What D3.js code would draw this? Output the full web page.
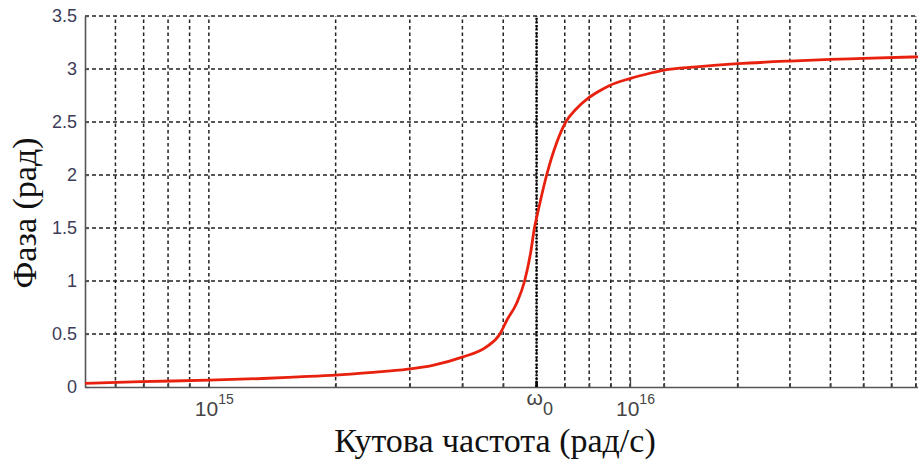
<!DOCTYPE html>
<html>
<head>
<meta charset="utf-8">
<script src="https://cdn.jsdelivr.net/npm/d3@7"></script>
<style>
  body { margin: 0; background: #fff; }
  svg { display: block; }
</style>
</head>
<body>
<svg id="chart" width="918" height="461"></svg>
<script>
// values: angular frequency (rad/s) and phase (rad)
const freq = [5.08e14, 6.9e14, 1.0e15, 1.34e15, 1.63e15, 2.0e15, 2.4e15, 2.97e15, 3.4e15, 3.98e15,
    4.57e15, 4.91e15, 5.1e15, 5.38e15, 5.62e15, 5.81e15, 5.93e15, 6.02e15, 6.34e15, 6.69e15,
    7.04e15, 7.44e15, 7.93e15, 8.48e15, 8.95e15, 1.0e16, 1.5e16, 2.0e16, 2.39e16, 3.0e16,
    4.0e16, 5.0e16, 6.0e16, 8.1e16];
const phase = [0.035, 0.05, 0.064, 0.08, 0.095, 0.112, 0.135, 0.168, 0.205, 0.28,
    0.38, 0.5, 0.63, 0.79, 1.0, 1.27, 1.5, 1.62, 2.0, 2.3,
    2.5, 2.62, 2.72, 2.795, 2.845, 2.91, 2.96, 2.99, 3.02, 3.05,
    3.075, 3.09, 3.10, 3.115];

const gridFreqs = [6e14, 7e14, 8e14, 9e14, 1e15, 2e15, 3e15, 4e15, 5e15, 6e15, 7e15, 8e15, 9e15,
    1e16, 2e16, 3e16, 4e16, 5e16, 6e16, 7e16, 8e16];
const decades = [1e15, 1e16];
const yTicks = [0, 0.5, 1, 1.5, 2, 2.5, 3, 3.5];
const omega0 = 6e15;

const svg = d3.select("#chart");

// the original axis is log, but the stretch between 1e16 and 2e16 is squeezed
const x = d3.scaleLinear()
    .domain([Math.log10(5.08e14), 16, Math.log10(2e16), Math.log10(8.1e16)])
    .range([85, 630, 664, 918]);
const fx = f => x(Math.log10(f));
const y = d3.scaleLinear().domain([0, 3.5]).range([387, 16]);

// grid
svg.append("g").selectAll("line")
    .data(yTicks.filter(d => d > 0))
    .join("line")
    .attr("x1", 85).attr("x2", 918)
    .attr("y1", d => y(d)).attr("y2", d => y(d))
    .attr("stroke", "#222").attr("stroke-width", 1.5)
    .attr("stroke-dasharray", "4,3");

svg.append("g").selectAll("line")
    .data(gridFreqs)
    .join("line")
    .attr("x1", d => fx(d)).attr("x2", d => fx(d))
    .attr("y1", y(0)).attr("y2", y(3.5))
    .attr("stroke", "#222").attr("stroke-width", 1.5)
    .attr("stroke-dasharray", "3.5,3");

// omega0 marker
svg.append("line")
    .attr("x1", fx(omega0)).attr("x2", fx(omega0))
    .attr("y1", y(0)).attr("y2", y(3.5))
    .attr("stroke", "#000").attr("stroke-width", 2.4)
    .attr("stroke-dasharray", "2,1.6");

// axes
const yAxis = svg.append("g")
    .attr("transform", "translate(85,0)")
    .call(d3.axisLeft(y).tickValues(yTicks).tickFormat(d3.format("")).tickSizeInner(-4).tickSizeOuter(0).tickPadding(8));
yAxis.select(".domain").attr("stroke", "#555").attr("stroke-width", 1.6);
yAxis.selectAll(".tick line").attr("stroke", "#555").attr("stroke-width", 1.3);
yAxis.selectAll(".tick text")
    .attr("font-family", "Liberation Sans, Arial, sans-serif")
    .attr("font-size", 18).attr("fill", "#3c3c58");

const xAxis = svg.append("g")
    .attr("transform", `translate(0,${y(0)})`)
    .call(d3.axisBottom(x).tickValues(gridFreqs.map(Math.log10)).tickFormat("").tickSizeInner(-4).tickSizeOuter(0));
xAxis.select(".domain").attr("stroke", "#555").attr("stroke-width", 1.6);
xAxis.selectAll(".tick line")
    .attr("stroke", "#444").attr("stroke-width", 1.3)
    .attr("y2", d => Number.isInteger(Math.round(d * 1e9) / 1e9) ? -9 : -4);

svg.append("line")
    .attr("x1", fx(omega0)).attr("x2", fx(omega0))
    .attr("y1", y(0)).attr("y2", y(0) - 6)
    .attr("stroke", "#000").attr("stroke-width", 2.5);

// decade labels 10^15, 10^16
decades.forEach(f => {
    const t = svg.append("text")
        .attr("x", fx(f) - 14)
        .attr("y", 416)
        .attr("font-family", "Liberation Sans, Arial, sans-serif")
        .attr("font-size", 21)
        .attr("fill", "#444");
    t.append("tspan").text("10");
    t.append("tspan").attr("dy", -12).attr("font-size", 14).text(Math.round(Math.log10(f)));
});

// omega0 label
const w = svg.append("text")
    .attr("x", fx(omega0) - 10)
    .attr("y", 405)
    .attr("font-family", "Liberation Sans, Arial, sans-serif")
    .attr("font-size", 21)
    .attr("fill", "#444");
w.append("tspan").text("ω");
w.append("tspan").attr("dy", 10).attr("font-size", 18).text("0");

// curve
const line = d3.line()
    .x((d, i) => fx(freq[i]))
    .y(d => y(d))
    .curve(d3.curveMonotoneX);

svg.append("path")
    .datum(phase)
    .attr("d", line)
    .attr("fill", "none")
    .attr("stroke", "#e8210f")
    .attr("stroke-width", 2.8);

// axis titles
svg.append("text")
    .attr("x", 495)
    .attr("y", 452)
    .attr("text-anchor", "middle")
    .attr("font-family", "Liberation Serif, Times New Roman, serif")
    .attr("font-size", 34)
    .attr("fill", "#111")
    .text("Кутова частота (рад/с)");

svg.append("text")
    .attr("transform", "translate(36,213) rotate(-90)")
    .attr("text-anchor", "middle")
    .attr("font-family", "Liberation Serif, Times New Roman, serif")
    .attr("font-size", 34)
    .attr("fill", "#111")
    .text("Фаза (рад)");
</script>
</body>
</html>
